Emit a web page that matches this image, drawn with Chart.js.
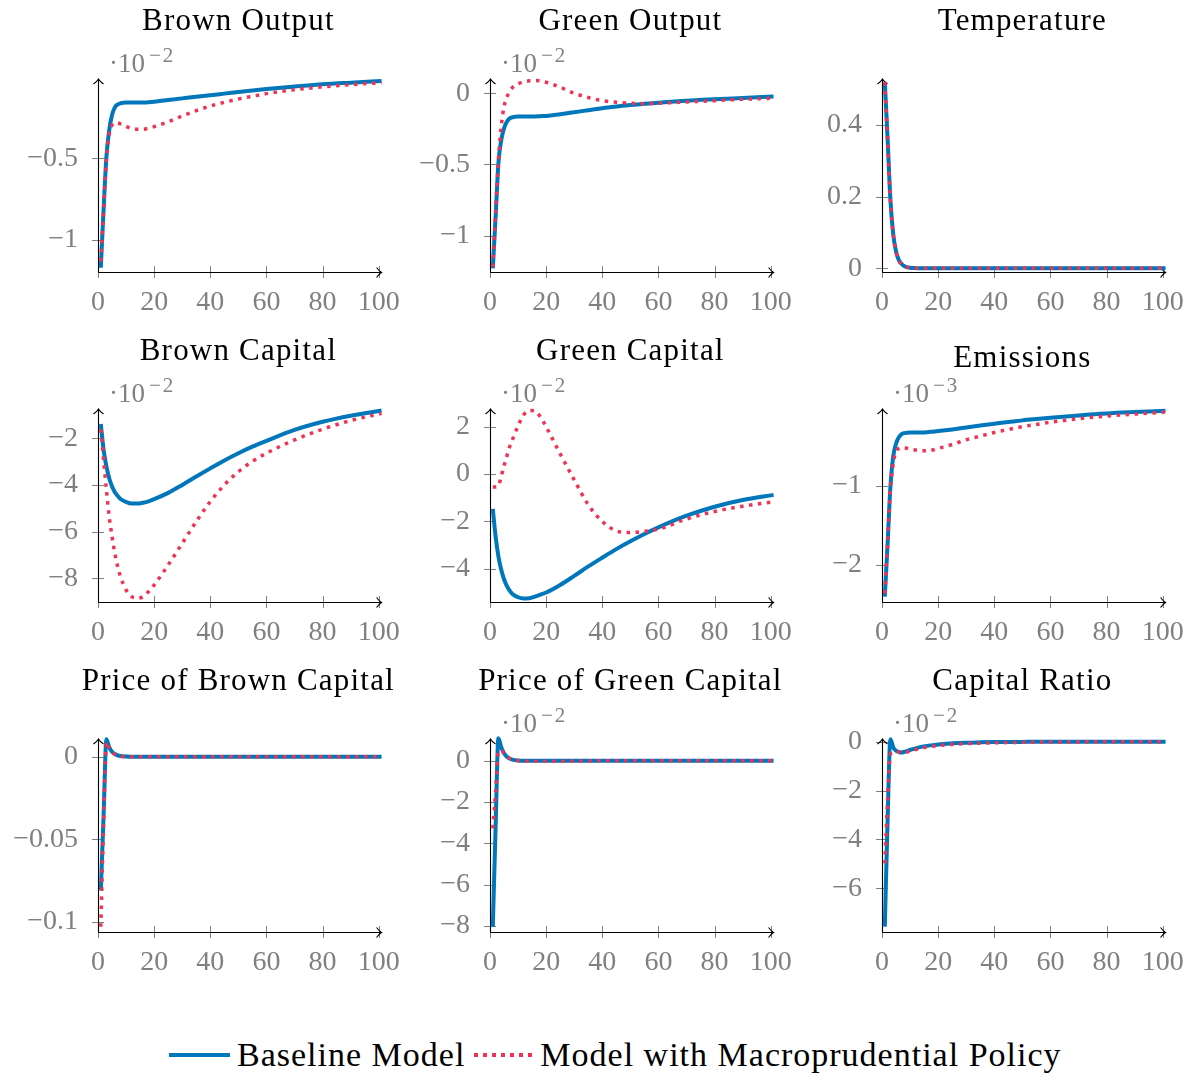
<!DOCTYPE html>
<html>
<head>
<meta charset="utf-8">
<title>Impulse responses</title>
<script src="https://cdn.jsdelivr.net/npm/chart.js@4.4.1/dist/chart.umd.min.js"></script>
<style>
  html, body { margin: 0; padding: 0; background: #fff; overflow: hidden; }
  #figure { position: relative; width: 1199px; height: 1074px; }
  #figure canvas { position: absolute; }
  #legend {
    position: absolute; left: 169px; top: 1035px; height: 40px;
    display: flex; align-items: center;
    font-family: 'Liberation Serif', serif; font-size: 34px; letter-spacing: 1px; color: #000;
    white-space: nowrap;
  }
  #legend .swatch { display: inline-block; width: 61px; height: 4px; }
  #legend .solid { background: #0077bb; margin-right: 7px; }
  #legend .dotted {
    background: repeating-linear-gradient(90deg, #ee3355 0 4px, transparent 4px 9px);
    margin-left: 9px; margin-right: 5px;
  }
</style>
</head>
<body>
<div id="figure"></div>
<script>
// ============================================================
// Data (values in the units shown on each axis)
// ============================================================
const periods = [1, 2, 3, 4, 5, 6, 7, 8, 10, 12, 14, 16, 18, 20, 25, 30, 35, 40, 45, 50, 55, 60, 70, 80, 90, 101];
const xTicks = [0, 20, 40, 60, 80, 100];
const seriesNames = ['Baseline Model', 'Model with Macroprudential Policy'];

const brownOutputBase  = [-1.17, -0.81, -0.49, -0.327, -0.235, -0.188, -0.17, -0.163, -0.159, -0.159, -0.159, -0.158, -0.156, -0.153, -0.143, -0.133, -0.123, -0.114, -0.104, -0.094, -0.085, -0.076, -0.061, -0.047, -0.037, -0.027];
const brownOutputMacro = [-1.13, -0.82, -0.51, -0.35, -0.296, -0.282, -0.283, -0.29, -0.306, -0.316, -0.322, -0.322, -0.316, -0.306, -0.276, -0.241, -0.208, -0.18, -0.157, -0.137, -0.12, -0.104, -0.08, -0.063, -0.049, -0.037];

const greenOutputBase  = [-1.23, -0.87, -0.49, -0.33, -0.246, -0.2, -0.176, -0.169, -0.164, -0.164, -0.164, -0.163, -0.161, -0.159, -0.148, -0.133, -0.119, -0.105, -0.093, -0.082, -0.074, -0.066, -0.052, -0.042, -0.033, -0.023];
const greenOutputMacro = [-1.22, -0.84, -0.47, -0.234, -0.094, -0.028, 0.012, 0.04, 0.066, 0.08, 0.087, 0.089, 0.087, 0.077, 0.042, 0.0, -0.03, -0.052, -0.063, -0.07, -0.073, -0.07, -0.061, -0.052, -0.042, -0.035];

const temperatureBase  = [0.52, 0.36, 0.19, 0.095, 0.047, 0.023, 0.012, 0.006, 0.0015, 0.0004, 0, 0, 0, 0, 0, 0, 0, 0, 0, 0, 0, 0, 0, 0, 0, 0];
const temperatureMacro = [0.52, 0.36, 0.19, 0.095, 0.047, 0.023, 0.012, 0.006, 0.0015, 0.0004, 0, 0, 0, 0, 0, 0, 0, 0, 0, 0, 0, 0, 0, 0, 0, 0];

const brownCapitalBase  = [-1.39, -2.5, -3.21, -3.71, -4.07, -4.31, -4.47, -4.6, -4.73, -4.8, -4.8, -4.76, -4.7, -4.61, -4.34, -4.0, -3.64, -3.29, -2.95, -2.64, -2.36, -2.11, -1.64, -1.29, -1.03, -0.81];
const brownCapitalMacro = [-1.62, -2.93, -4.21, -5.36, -6.21, -6.93, -7.5, -7.93, -8.5, -8.79, -8.86, -8.79, -8.57, -8.29, -7.43, -6.5, -5.57, -4.71, -4.0, -3.43, -2.99, -2.64, -2.07, -1.61, -1.24, -0.93];

const greenCapitalBase  = [-1.47, -2.64, -3.48, -4.04, -4.44, -4.72, -4.92, -5.06, -5.2, -5.25, -5.24, -5.17, -5.09, -5.0, -4.68, -4.3, -3.9, -3.53, -3.17, -2.84, -2.53, -2.25, -1.76, -1.38, -1.1, -0.88];
const greenCapitalMacro = [-0.55, -0.55, -0.5, -0.1, 0.35, 0.75, 1.15, 1.45, 2.03, 2.5, 2.68, 2.66, 2.4, 1.99, 0.85, -0.25, -1.3, -2.0, -2.4, -2.47, -2.42, -2.33, -1.9, -1.58, -1.36, -1.17];

const emissionsBase  = [-2.4, -1.73, -1.01, -0.63, -0.47, -0.39, -0.35, -0.336, -0.328, -0.328, -0.328, -0.325, -0.318, -0.311, -0.29, -0.265, -0.241, -0.218, -0.197, -0.176, -0.159, -0.143, -0.113, -0.088, -0.071, -0.055];
const emissionsMacro = [-2.36, -1.73, -1.05, -0.72, -0.57, -0.53, -0.517, -0.52, -0.54, -0.55, -0.56, -0.56, -0.55, -0.53, -0.48, -0.42, -0.374, -0.328, -0.29, -0.256, -0.227, -0.2, -0.155, -0.122, -0.097, -0.071];

const priceBrownBase  = [-0.081, -0.035, 0.0105, 0.0057, 0.003, 0.0016, 0.0008, 0.0004, 0.0001, 0, 0, 0, 0, 0, 0, 0, 0, 0, 0, 0, 0, 0, 0, 0, 0, 0];
const priceBrownMacro = [-0.103, -0.04, 0.009, 0.005, 0.0027, 0.0014, 0.0007, 0.0003, 0.0001, 0, 0, 0, 0, 0, 0, 0, 0, 0, 0, 0, 0, 0, 0, 0, 0, 0];

const priceGreenBase  = [-8.05, -3.2, 1.08, 0.65, 0.36, 0.19, 0.1, 0.05, 0.01, 0, 0, 0, 0, 0, 0, 0, 0, 0, 0, 0, 0, 0, 0, 0, 0, 0];
const priceGreenMacro = [-3.28, -1.5, 0.45, 0.5, 0.35, 0.2, 0.1, 0.05, 0, -0.03, -0.03, -0.03, -0.03, -0.03, -0.025, -0.02, -0.015, -0.01, -0.01, -0.005, 0, 0, 0, 0, 0, 0];

const capitalRatioBase  = [-7.57, -3.17, 0.1, -0.23, -0.37, -0.42, -0.44, -0.41, -0.34, -0.27, -0.21, -0.17, -0.14, -0.11, -0.068, -0.04, -0.025, -0.014, -0.01, -0.007, -0.004, -0.003, 0, 0, 0, 0];
const capitalRatioMacro = [-4.98, -2.39, -0.5, -0.42, -0.4, -0.42, -0.45, -0.44, -0.38, -0.32, -0.27, -0.22, -0.19, -0.16, -0.11, -0.08, -0.06, -0.045, -0.035, -0.025, -0.018, -0.014, -0.008, -0.004, -0.002, 0];

// y tick values per panel
const brownOutputTicks  = [-1, -0.5];
const greenOutputTicks  = [-1, -0.5, 0];
const temperatureTicks  = [0, 0.2, 0.4];
const brownCapitalTicks = [-8, -6, -4, -2];
const greenCapitalTicks = [-4, -2, 0, 2];
const emissionsTicks    = [-2, -1];
const priceBrownTicks   = [-0.1, -0.05, 0];
const priceGreenTicks   = [-8, -6, -4, -2, 0];
const capitalRatioTicks = [-6, -4, -2, 0];

const panels = [
  { title: 'Brown Output',          base: brownOutputBase,  macro: brownOutputMacro,  ticks: brownOutputTicks,  yMin: -1.196, yMax: -0.0205, exp: '−2' },
  { title: 'Green Output',          base: greenOutputBase,  macro: greenOutputMacro,  ticks: greenOutputTicks,  yMin: -1.255, yMax: 0.093,   exp: '−2' },
  { title: 'Temperature',           base: temperatureBase,  macro: temperatureMacro,  ticks: temperatureTicks,  yMin: -0.0103, yMax: 0.5255, exp: null },
  { title: 'Brown Capital',         base: brownCapitalBase, macro: brownCapitalMacro, ticks: brownCapitalTicks, yMin: -9.017, yMax: -0.787,  exp: '−2' },
  { title: 'Green Capital',         base: greenCapitalBase, macro: greenCapitalMacro, ticks: greenCapitalTicks, yMin: -5.40,  yMax: 2.70,    exp: '−2' },
  { title: 'Emissions',             base: emissionsBase,    macro: emissionsMacro,    ticks: emissionsTicks,    yMin: -2.467, yMax: -0.045,  exp: '−3' },
  { title: 'Price of Brown Capital',base: priceBrownBase,   macro: priceBrownMacro,   ticks: priceBrownTicks,   yMin: -0.1062, yMax: 0.0101, exp: null },
  { title: 'Price of Green Capital',base: priceGreenBase,   macro: priceGreenMacro,   ticks: priceGreenTicks,   yMin: -8.30,  yMax: 1.0,     exp: '−2' },
  { title: 'Capital Ratio',         base: capitalRatioBase, macro: capitalRatioMacro, ticks: capitalRatioTicks, yMin: -7.79,  yMax: 0.07,    exp: '−2' }
];

// ============================================================
// Styling
// ============================================================
const BLUE = '#0077bb';
const RED = '#ee3355';
const GREY = '#808080';
const SERIF = "'Liberation Serif', 'Times New Roman', serif";

const CANVAS_W = 414, CANVAS_H = 330;
const AXIS_LEFT = 98, AREA_TOP = 80, AREA_RIGHT_PAD = 26, XAXIS_H = 58;

Chart.defaults.font.family = SERIF;
Chart.defaults.font.size = 28;
Chart.defaults.color = GREY;

const fmtTick = v => (v < 0 ? '\u2212' : '') + Math.abs(v);

// pgfplots-like axes: arrows, crossing grey ticks, title and exponent label
const axisDecor = {
  id: 'axisDecor',
  beforeDatasetsDraw(chart) {
    const { ctx, chartArea: a, scales: { x, y } } = chart;
    ctx.save();
    ctx.strokeStyle = GREY;
    ctx.lineWidth = 1;
    ctx.beginPath();
    x.ticks.forEach(t => {
      const px = Math.round(x.getPixelForValue(t.value)) + 0.5;
      ctx.moveTo(px, a.bottom - 6);
      ctx.lineTo(px, a.bottom + 6);
    });
    y.ticks.forEach(t => {
      const py = Math.round(y.getPixelForValue(t.value)) + 0.5;
      ctx.moveTo(a.left - 6, py);
      ctx.lineTo(a.left + 6, py);
    });
    ctx.stroke();

    const x0 = Math.round(a.left) + 0.5;
    const yb = Math.round(a.bottom) + 0.5;
    const xr = a.right, yt = a.top - 1;
    ctx.strokeStyle = '#000';
    ctx.lineWidth = 1.1;
    ctx.beginPath();
    ctx.moveTo(x0, yb); ctx.lineTo(xr, yb);
    ctx.moveTo(x0, yb); ctx.lineTo(x0, yt);
    // arrow heads
    ctx.moveTo(xr - 5, yb - 5); ctx.quadraticCurveTo(xr - 2, yb - 1, xr, yb); ctx.quadraticCurveTo(xr - 2, yb + 1, xr - 5, yb + 5);
    ctx.moveTo(x0 - 5, yt + 5); ctx.quadraticCurveTo(x0 - 1, yt + 2, x0, yt); ctx.quadraticCurveTo(x0 + 1, yt + 2, x0 + 5, yt + 5);
    ctx.stroke();
    ctx.restore();
  },
  afterDraw(chart, args, opts) {
    const { ctx, chartArea: a, scales: { x } } = chart;
    ctx.save();
    // title, anchored at its bottom edge
    ctx.font = '31px ' + SERIF;
    ctx.letterSpacing = '1.2px';
    ctx.fillStyle = '#000';
    ctx.textAlign = 'center';
    ctx.textBaseline = 'alphabetic';
    const m = ctx.measureText(opts.title);
    ctx.fillText(opts.title, x.getPixelForValue(50), 36.5 - m.actualBoundingBoxDescent);

    // scale factor label
    if (opts.exp) {
      ctx.letterSpacing = '0px';
      ctx.textAlign = 'left';
      ctx.fillStyle = GREY;
      ctx.font = '27px ' + SERIF;
      const bx = a.left + 11, by = a.top - 8;
      ctx.fillText('\u00b7', bx, by);
      ctx.fillText('10', bx + 9, by);
      ctx.font = '21px ' + SERIF;
      ctx.letterSpacing = '2px';
      ctx.fillText(opts.exp, bx + 40, by - 10);
    }
    ctx.restore();
  }
};

// ============================================================
// Build the 3x3 grid
// ============================================================
const figure = document.getElementById('figure');

panels.forEach((p, i) => {
  const col = i % 3, row = Math.floor(i / 3);
  const canvas = document.createElement('canvas');
  canvas.width = CANVAS_W;
  canvas.height = CANVAS_H;
  canvas.style.left = (col * 392) + 'px';
  canvas.style.top = (row * 330) + 'px';
  figure.appendChild(canvas);

  const toPoints = arr => periods.map((t, k) => ({ x: t, y: arr[k] }));

  new Chart(canvas, {
    type: 'line',
    data: {
      datasets: [{
        label: seriesNames[1],
        data: toPoints(p.macro),
        borderColor: RED,
        borderWidth: 3.5,
        borderDash: [3.5, 5.5],
        borderCapStyle: 'butt',
        pointRadius: 0,
        cubicInterpolationMode: 'monotone',
        clip: false,
        order: 0
      }, {
        label: seriesNames[0],
        data: toPoints(p.base),
        borderColor: BLUE,
        borderWidth: 4,
        pointRadius: 0,
        cubicInterpolationMode: 'monotone',
        clip: false,
        order: 1
      }]
    },
    options: {
      responsive: false,
      animation: false,
      events: [],
      layout: { padding: { left: 0, top: AREA_TOP, right: AREA_RIGHT_PAD, bottom: 0 } },
      plugins: {
        legend: { display: false },
        tooltip: { enabled: false },
        axisDecor: { title: p.title, exp: p.exp }
      },
      scales: {
        x: {
          type: 'linear',
          min: 0,
          max: 101,
          grid: { display: false, drawTicks: false },
          border: { display: false },
          ticks: { autoSkip: false, maxRotation: 0, padding: 14, color: GREY },
          afterBuildTicks: s => { s.ticks = xTicks.map(v => ({ value: v })); },
          afterFit: s => { s.height = XAXIS_H; }
        },
        y: {
          type: 'linear',
          min: p.yMin,
          max: p.yMax,
          grid: { display: false, drawTicks: false },
          border: { display: false },
          ticks: { padding: 20, color: GREY, callback: v => fmtTick(v) },
          afterBuildTicks: s => { s.ticks = p.ticks.map(v => ({ value: v })); },
          afterFit: s => { s.width = AXIS_LEFT; }
        }
      }
    },
    plugins: [axisDecor]
  });
});

// shared legend
const legend = document.createElement('div');
legend.id = 'legend';
legend.innerHTML =
  '<span class="swatch solid"></span><span>' + seriesNames[0] + '</span>' +
  '<span class="swatch dotted"></span><span>' + seriesNames[1] + '</span>';
figure.appendChild(legend);
</script>
</body>
</html>
